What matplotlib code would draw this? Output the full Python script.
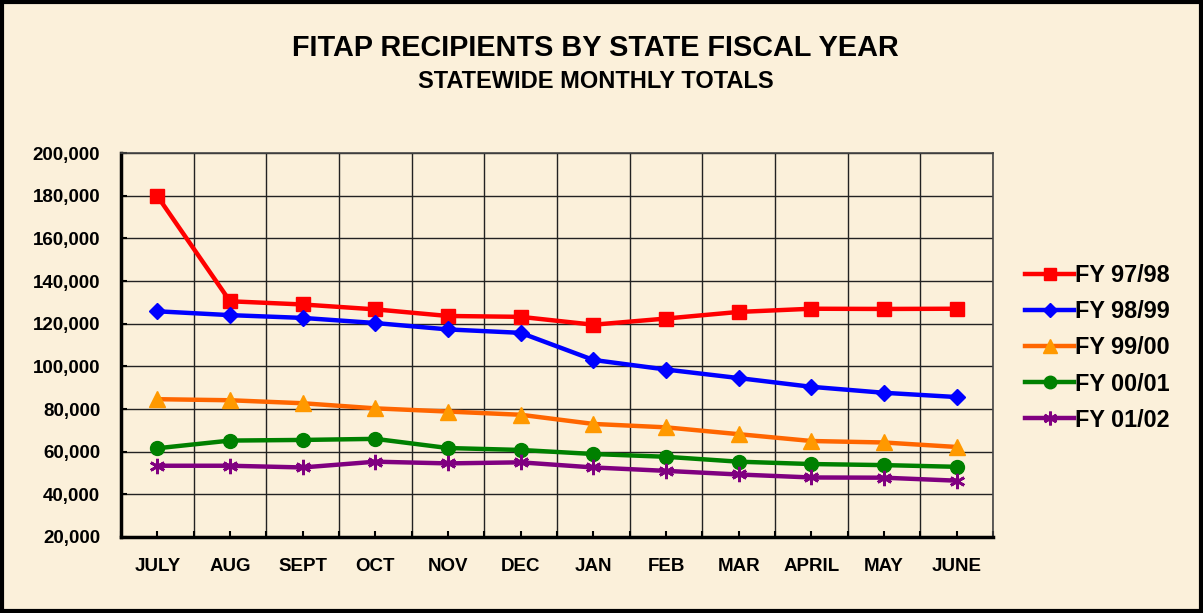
import matplotlib
matplotlib.use("Agg")
import matplotlib.pyplot as plt
from matplotlib.patches import Rectangle
from matplotlib.lines import Line2D
from matplotlib.ticker import FuncFormatter, MultipleLocator, FixedLocator

plt.rcParams['font.family'] = ['Liberation Sans', 'DejaVu Sans']

months = ['JULY', 'AUG', 'SEPT', 'OCT', 'NOV', 'DEC', 'JAN', 'FEB', 'MAR', 'APRIL', 'MAY', 'JUNE']

fy9798 = [179800, 130500, 129000, 126700, 123600, 123200, 119500, 122400, 125500, 127000, 126900, 127000]
fy9899 = [125800, 124000, 122700, 120300, 117300, 115700, 103000, 98500, 94500, 90400, 87600, 85600]
fy9900 = [84600, 84100, 82700, 80300, 78800, 77300, 73000, 71400, 68200, 65000, 64300, 62200]
fy0001 = [61600, 65200, 65500, 66000, 61700, 60800, 58900, 57600, 55300, 54200, 53700, 52900]
fy0102 = [53400, 53400, 52600, 55300, 54500, 55000, 52600, 51000, 49300, 47900, 47800, 46400]

series = [
    ('FY 97/98', fy9798, '#FF0000', '#FF0000', 's', 10),
    ('FY 98/99', fy9899, '#0000FF', '#0000FF', 'D', 8),
    ('FY 99/00', fy9900, '#FF6600', '#FF9900', '^', 11),
    ('FY 00/01', fy0001, '#008000', '#008000', 'o', 10),
    ('FY 01/02', fy0102, '#800080', '#800080', (6, 2, 0), 11),
]

bg = '#FBF0DA'
fig = plt.figure(figsize=(12.03, 6.13), dpi=100, facecolor=bg)
ax = fig.add_axes([121/1203, 1 - 537/613, (993 - 121)/1203, (537 - 153)/613])
ax.set_facecolor(bg)

x = list(range(len(months)))
for name, vals, lc, mc, mk, ms in series:
    ax.plot(x, vals, color=lc, lw=3.2, marker=mk, markersize=ms,
            markerfacecolor=mc, markeredgecolor=mc, mew=2 if mk == (6, 2, 0) else 1,
            label=name, zorder=3)

ax.set_xlim(-0.5, 11.5)
ax.set_ylim(20000, 200000)
ax.yaxis.set_major_locator(MultipleLocator(20000))
ax.yaxis.set_major_formatter(FuncFormatter(lambda v, p: f'{int(v):,}'))
ax.set_xticks(x)
ax.set_xticklabels(months)
ax.xaxis.set_minor_locator(FixedLocator([i + 0.5 for i in range(-1, 12)]))

ax.grid(True, which='major', axis='y', color='#222222', lw=1)
ax.grid(True, which='minor', axis='x', color='#222222', lw=1)
ax.set_axisbelow(True)

ax.tick_params(axis='both', which='both', direction='in', length=4, width=1.5, color='black')
ax.tick_params(axis='x', which='major', pad=15, labelsize=13.5)
ax.tick_params(axis='y', which='major', pad=15, labelsize=13.5)
for lab in ax.get_xticklabels() + ax.get_yticklabels():
    lab.set_fontweight('bold')

for s in ['left', 'bottom']:
    ax.spines[s].set_linewidth(2.5)
    ax.spines[s].set_color('black')
for s in ['top', 'right']:
    ax.spines[s].set_linewidth(1.2)
    ax.spines[s].set_color('#444444')

fig.text(595/1203, 1 - 48/613, 'FITAP RECIPIENTS BY STATE FISCAL YEAR',
         ha='center', va='center', fontsize=20.8, fontweight='bold')
fig.text(596/1203, 1 - 82/613, 'STATEWIDE MONTHLY TOTALS',
         ha='center', va='center', fontsize=17, fontweight='bold')

handles = []
for name, vals, lc, mc, mk, ms in series:
    handles.append(Line2D([0], [0], color=lc, lw=3.2, marker=mk, markersize=ms * 0.9,
                          markerfacecolor=mc, markeredgecolor=mc,
                          mew=2 if mk == (6, 2, 0) else 1))
leg = fig.legend(handles, [s[0] for s in series], loc='center left',
                 bbox_to_anchor=(1004/1203, 1 - 348/613), frameon=False,
                 handlelength=2.1, handletextpad=0.05, labelspacing=0.56,
                 prop={'weight': 'bold', 'size': 16.8})

fig.patches.append(Rectangle((0.002, 0.004), 0.996, 0.992, transform=fig.transFigure,
                             fill=False, edgecolor='black', lw=3))

fig.savefig('out.png', dpi=100, facecolor=bg)
